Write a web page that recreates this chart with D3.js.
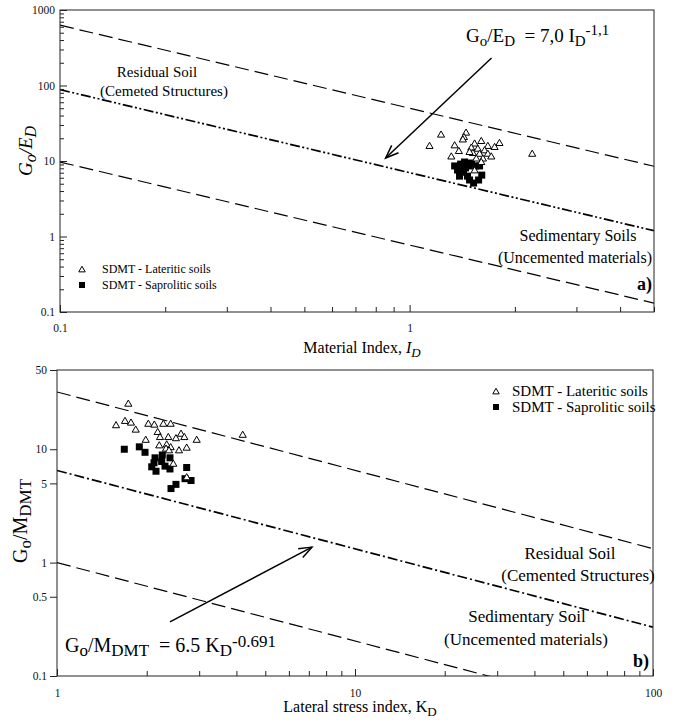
<!DOCTYPE html>
<html><head><meta charset="utf-8">
<script src="https://cdn.jsdelivr.net/npm/d3@7"></script>
<style>body{margin:0;background:#fff} text{font-family:'Liberation Serif','Times New Roman',serif}</style>
</head><body>
<svg id="c" width="675" height="728"></svg>
<script>
// ---------- DATA ----------
// Panel a) : Material index ID vs Go/ED
const topLatID = [1.14,1.23,1.45,1.43,1.42,1.345,1.383,1.316,1.534,1.603,1.674,1.75,1.807,1.501,1.567,1.638,1.517,1.585,1.674,1.712,1.551,1.62,1.534,2.242,1.484,1.603];
const topLatGE = [16.0,22.6,24.0,21.0,19.5,16.3,13.7,11.6,17.2,18.6,16.0,15.5,17.5,15.2,14.7,14.0,12.9,12.6,12.6,11.6,10.9,10.9,7.6,12.6,13.3,9.8];
const topSapID = [1.345,1.371,1.399,1.436,1.474,1.503,1.544,1.389,1.426,1.464,1.484,1.524,1.575,1.608,1.445,1.408,1.585];
const topSapGE = [8.6,7.6,9.1,9.7,8.6,9.4,8.6,6.3,7.1,6.3,5.6,5.1,5.6,6.5,8.1,8.1,8.6];
// boundary / fit lines  Go/ED = a * ID^b
const topCoef = [50, 7.0, 0.77];
const topExp = -1.1;
const topXDomain = [0.1, 5];
const topYDomain = [0.1, 1000];
const topXMajor = [0.1, 1];
const topXMinor = [0.2,0.3,0.4,0.5,0.6,0.7,0.8,0.9,2,3,4,5];
const topYMajor = [0.1, 1, 10, 100, 1000];
const topYMinor = [0.2,0.3,0.4,0.5,0.6,0.7,0.8,0.9,2,3,4,5,6,7,8,9,20,30,40,50,60,70,80,90,200,300,400,500,600,700,800,900];
const topArrow = [[1.715, 231], [0.854, 10.96]];

// Panel b) : Lateral stress index KD vs Go/MDMT
const botLatKD = [1.735,1.578,1.691,1.771,1.837,2.025,2.121,2.274,2.407,2.177,1.985,2.216,2.363,2.507,2.607,2.675,2.943,2.204,2.334,2.407,2.567,2.724,2.322,2.376,2.456,2.724,4.2];
const botLatGM = [25.4,16.4,17.9,17.3,15.0,16.9,16.6,16.9,16.9,14.3,12.2,12.9,12.9,12.6,13.8,12.9,12.2,10.9,11.1,10.5,9.85,10.4,10.2,9.85,7.5,5.7,13.5];
const botSapKD = [1.682,1.889,1.974,2.133,2.116,2.149,2.256,2.394,2.304,2.394,2.245,2.724,2.689,2.817,2.413,2.507,2.079];
const botSapGM = [10.0,10.5,9.4,8.4,7.6,6.4,8.9,8.4,7.1,6.7,7.8,6.9,5.5,5.3,4.5,4.9,7.0];
const botCoef = [32, 6.5, 1.0];
const botExp = -0.691;
const botXDomain = [1, 100];
const botYDomain = [0.1, 50];
const botXMajor = [1, 10, 100];
const botXMinor = [2,3,4,5,6,7,8,9,20,30,40,50,60,70,80,90];
const botYTicks = [0.1, 0.5, 1, 5, 10, 50];
const botArrow = [[2.394, 0.30], [7.17, 1.37]];

// ---------- DRAW ----------
const FONT = "'Liberation Serif','Times New Roman',serif";
const svg = d3.select('#c').style('font-family', FONT);

const defs = svg.append('defs');
defs.append('marker').attr('id','arr').attr('viewBox','-14 -7 16 14')
  .attr('refX',0).attr('refY',0).attr('markerWidth',16).attr('markerHeight',14)
  .attr('markerUnits','userSpaceOnUse').attr('orient','auto')
  .append('path').attr('d','M-13,-5 L0,0 L-13,5').attr('fill','none').attr('stroke','#000').attr('stroke-width',1.5);

function panel(cfg) {
  const x = d3.scaleLog().domain(cfg.xDomain).range([cfg.x0, cfg.x1]);
  const y = d3.scaleLog().domain(cfg.yDomain).range([cfg.y1, cfg.y0]);
  const g = svg.append('g');
  const clipId = 'clip' + cfg.id;
  defs.append('clipPath').attr('id', clipId).append('rect')
    .attr('x', cfg.x0).attr('y', cfg.y0).attr('width', cfg.x1 - cfg.x0).attr('height', cfg.y1 - cfg.y0);

  const line = d3.line().x(d => x(d[0])).y(d => y(d[1]));
  const lg = g.append('g').attr('clip-path', `url(#${clipId})`);
  cfg.coef.forEach((a, i) => {
    const pts = cfg.xDomain.map(v => [v, a * Math.pow(v, cfg.exp)]);
    lg.append('path').attr('d', line(pts)).attr('fill','none').attr('stroke','#000')
      .attr('stroke-width', i === 1 ? 1.7 : 1.2)
      .attr('stroke-dasharray', i === 1 ? cfg.midDash : '14,6');
  });

  const s = 7;
  g.append('g').selectAll('rect').data(cfg.sapX.map((v,i)=>[v,cfg.sapY[i]])).join('rect')
    .attr('x', d => x(d[0]) - s/2).attr('y', d => y(d[1]) - s/2).attr('width', s).attr('height', s)
    .attr('fill', '#000');
  const tri = d3.symbol().type(d3.symbolTriangle).size(22);
  g.append('g').selectAll('path').data(cfg.latX.map((v,i)=>[v,cfg.latY[i]])).join('path')
    .attr('d', tri).attr('transform', d => `translate(${x(d[0])},${y(d[1])+0.8})`)
    .attr('fill', '#fff').attr('stroke', '#000').attr('stroke-width', 1);

  g.append('path').attr('d', line(cfg.arrow)).attr('fill','none').attr('stroke','#000')
    .attr('stroke-width',1.5).attr('marker-end','url(#arr)');

  g.append('rect').attr('x', cfg.x0).attr('y', cfg.y0).attr('width', cfg.x1 - cfg.x0).attr('height', cfg.y1 - cfg.y0)
    .attr('fill','none').attr('stroke','#222').attr('stroke-width',1);

  const ax = g.append('g').attr('transform', `translate(0,${cfg.y1})`);
  ax.call(d3.axisBottom(x).tickValues(cfg.xMinor).tickSize(-5).tickFormat(''));
  const axM = g.append('g').attr('transform', `translate(0,${cfg.y1})`);
  axM.call(d3.axisBottom(x).tickValues(cfg.xMajor).tickSize(-7).tickPadding(cfg.xPad).tickFormat(d3.format('~g')));
  const ay = g.append('g').attr('transform', `translate(${cfg.x0},0)`);
  if (cfg.yMinor) ay.call(d3.axisLeft(y).tickValues(cfg.yMinor).tickSize(-4).tickFormat(''));
  const ayM = g.append('g').attr('transform', `translate(${cfg.x0},0)`);
  ayM.call(d3.axisLeft(y).tickValues(cfg.yMajor).tickSize(cfg.yTick).tickPadding(cfg.yPad).tickFormat(d3.format('~g')));
  g.selectAll('.domain').remove();
  g.selectAll('.tick line').attr('stroke', '#222');
  g.selectAll('.tick text').attr('font-family', FONT).attr('font-size', 11.5).attr('fill', '#111');
  return {x, y, g};
}

const A = panel({id:'a', x0:60, x1:654, y0:10, y1:312, xDomain: topXDomain, yDomain: topYDomain,
  coef: topCoef, exp: topExp, midDash: '10,2.5,2,2.5,2,2.5',
  latX: topLatID, latY: topLatGE, sapX: topSapID, sapY: topSapGE, arrow: topArrow,
  xMajor: topXMajor, xMinor: topXMinor, yMajor: topYMajor, yMinor: topYMinor, yTick: -7, yPad: 5, xPad: 12});

const B = panel({id:'b', x0:57, x1:653, y0:370, y1:676, xDomain: botXDomain, yDomain: botYDomain,
  coef: botCoef, exp: botExp, midDash: '10,3,2,3',
  latX: botLatKD, latY: botLatGM, sapX: botSapKD, sapY: botSapGM, arrow: botArrow,
  xMajor: botXMajor, xMinor: botXMinor, yMajor: botYTicks, yMinor: null, yTick: 7, yPad: 3, xPad: 13});

// ---------- TEXT ----------
function txt(x, y, size, anchor, parts, extra) {
  const t = svg.append('text').attr('x', x).attr('y', y).attr('font-size', size)
    .attr('font-family', FONT).attr('text-anchor', anchor).attr('fill', '#000');
  if (extra) extra(t);
  parts.forEach(p => {
    const s = t.append('tspan').text(p.t);
    if (p.dy) s.attr('dy', p.dy);
    if (p.fs) s.attr('font-size', p.fs);
    if (p.it) s.attr('font-style', 'italic');
    if (p.b) s.attr('font-weight', 'bold');
  });
  return t;
}

// Panel a text
txt(466, 42, 19, 'start', [{t:'G'},{t:'o',dy:4,fs:15},{t:'/E',dy:-4},{t:'D',dy:4,fs:15},{t:'\u00a0 = 7,0 I',dy:-4},{t:'D',dy:4,fs:15},{t:'-1,1',dy:-11,fs:15}]);
txt(157, 77, 15, 'middle', [{t:'Residual Soil'}]);
txt(164, 96, 15, 'middle', [{t:'(Cemeted Structures)'}]);
txt(578, 241, 16, 'middle', [{t:'Sedimentary Soils'}]);
txt(575, 263, 16, 'middle', [{t:'(Uncemented materials)'}]);
txt(652, 290, 18, 'end', [{t:'a)', b:true}]);
txt(362, 353, 16, 'middle', [{t:'Material Index, '},{t:'I',it:true},{t:'D',it:true,dy:4,fs:13}]);
txt(0, 0, 19, 'middle', [{t:'G',it:true},{t:'o',it:true,dy:4,fs:16},{t:'/E',it:true,dy:-4},{t:'D',it:true,dy:4,fs:16}],
  t => t.attr('transform','translate(32,151) rotate(-90)').attr('x',0).attr('y',0));

// legend a
const triL = d3.symbol().type(d3.symbolTriangle).size(18);
svg.append('path').attr('d', triL).attr('transform','translate(82,270)').attr('fill','#fff').attr('stroke','#000');
svg.append('rect').attr('x',79).attr('y',282).attr('width',6).attr('height',6).attr('fill','#000');
txt(102, 273, 12, 'start', [{t:'SDMT - Lateritic soils'}]);
txt(102, 289, 12, 'start', [{t:'SDMT - Saprolitic soils'}]);

// Panel b text
txt(65, 652, 20, 'start', [{t:'G'},{t:'o',dy:4,fs:17},{t:'/M',dy:-4},{t:'DMT',dy:4,fs:17},{t:'\u00a0 = 6.5 K',dy:-4},{t:'D',dy:4,fs:17},{t:'-0.691',dy:-9,fs:17}]);
txt(570, 559, 17, 'middle', [{t:'Residual Soil'}]);
txt(578, 581, 17, 'middle', [{t:'(Cemented Structures)'}]);
txt(527, 622, 17, 'middle', [{t:'Sedimentary Soil'}]);
txt(526, 645, 17, 'middle', [{t:'(Uncemented materials)'}]);
txt(649, 667, 18, 'end', [{t:'b)', b:true}]);
txt(360, 712, 16, 'middle', [{t:'Lateral stress index, K'},{t:'D',dy:4,fs:13}]);
txt(0, 0, 20, 'middle', [{t:'G'},{t:'o',dy:4,fs:17},{t:'/M',dy:-4},{t:'DMT',dy:4,fs:17}],
  t => t.attr('transform','translate(27,521) rotate(-90)').attr('x',0).attr('y',0));

// legend b
svg.append('path').attr('d', triL).attr('transform','translate(496,392)').attr('fill','#fff').attr('stroke','#000');
svg.append('rect').attr('x',493).attr('y',404).attr('width',6).attr('height',6).attr('fill','#000');
txt(512, 396, 15, 'start', [{t:'SDMT - Lateritic soils'}]);
txt(512, 412, 15, 'start', [{t:'SDMT - Saprolitic soils'}]);
</script>
</body></html>
